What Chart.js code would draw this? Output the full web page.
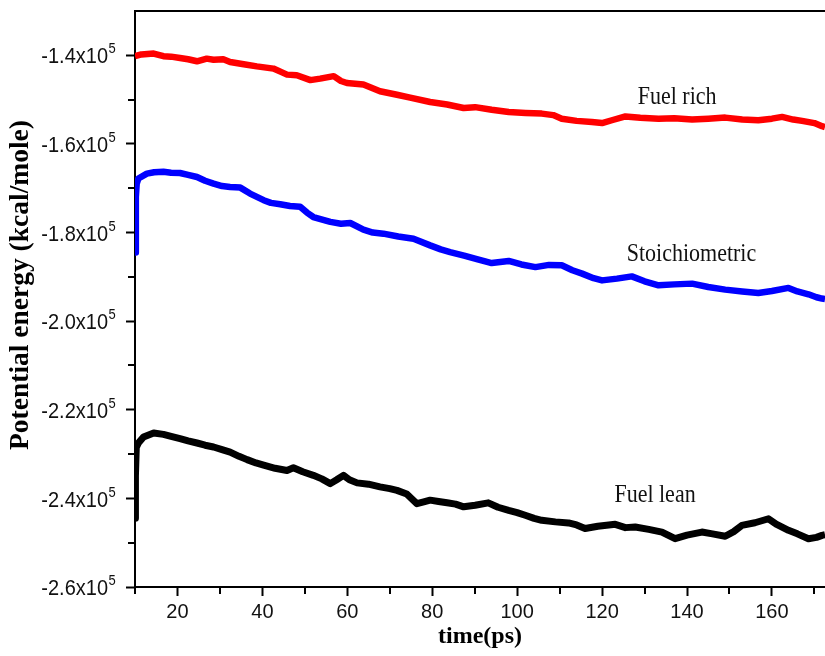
<!DOCTYPE html>
<html>
<head>
<meta charset="utf-8">
<script src="https://cdn.jsdelivr.net/npm/chart.js@4/dist/chart.umd.min.js"></script>
<style>
  html, body { margin: 0; padding: 0; background: #ffffff; }
  #wrap { width: 825px; height: 656px; }
</style>
</head>
<body>
<div id="wrap"><canvas id="c" width="825" height="656"></canvas></div>
<script>
// ---------------- data ----------------
const xTickValues = [10,20,30,40,50,60,70,80,90,100,110,120,130,140,150,160,170];
const xTickLabels = ['', '20', '', '40', '', '60', '', '80', '', '100', '', '120', '', '140', '', '160', ''];
const yTickValues = [-260000,-250000,-240000,-230000,-220000,-210000,-200000,-190000,-180000,-170000,-160000,-150000,-140000];
const yTickLabels = ['-2.6x10','', '-2.4x10','', '-2.2x10','', '-2.0x10','', '-1.8x10','', '-1.6x10','', '-1.4x10'];
const yTickExponent = '5';

const seriesNames = ['Fuel rich', 'Stoichiometric', 'Fuel lean'];

const richTime = [10.0,11.5,14.4,16.7,18.5,20.6,22.5,24.6,26.9,28.5,30.8,32.4,35.6,38.7,42.6,44.5,45.8,48.1,51.3,53.6,56.8,58.5,59.9,63.8,67.7,71.7,74.8,79.5,83.5,87.4,90.1,94,98,102,105.8,108.5,110.5,114,117.6,120,122.5,125.5,129,133.3,137,141.2,145,149,153,156.8,160,162.4,165,167.1,170,171.8,172.5];
const richEnergy = [-140200,-139800,-139600,-140200,-140300,-140600,-140900,-141350,-140750,-141000,-140900,-141500,-142000,-142500,-143000,-143800,-144360,-144500,-145600,-145260,-144700,-145800,-146250,-146600,-148100,-148900,-149550,-150540,-151100,-151900,-151700,-152300,-152800,-153000,-153160,-153500,-154300,-154800,-155050,-155300,-154600,-153800,-154100,-154300,-154200,-154500,-154300,-154060,-154500,-154670,-154300,-153900,-154500,-154800,-155300,-156000,-156200];

const stoichTime = [10.0,10.2,10.4,10.8,12.8,14.5,16.7,18.5,20.6,22.5,24.6,26.5,28.5,30.5,32.4,34.8,37.1,40.3,42,44.2,46.5,48.9,50.5,52,56,58.5,60.7,63.8,66,68.5,72,75.6,79.5,82,84.2,87.5,90.5,94,98,101,104.3,107.5,110.5,113,115.3,118,120,123.5,127,130,133.3,137,141.2,145,149,153,156.8,160,163.9,166,168.6,170.5,171.8,172.5];
const stoichEnergy = [-184500,-172000,-169000,-167800,-166700,-166400,-166300,-166500,-166560,-167000,-167470,-168300,-168960,-169500,-169700,-169860,-171200,-172700,-173300,-173600,-174000,-174200,-175500,-176500,-177600,-178000,-177850,-179350,-180000,-180250,-180900,-181400,-182900,-183800,-184400,-185200,-186000,-186880,-186420,-187200,-187800,-187300,-187400,-188500,-189270,-190300,-190800,-190400,-189900,-191000,-191900,-191700,-191530,-192300,-192880,-193300,-193650,-193200,-192500,-193300,-193940,-194600,-194900,-195000];

const leanTime = [10.0,10.1,10.3,10.8,12,14.4,16.7,18.5,20.6,22.5,24.6,26.5,28.5,30.5,32.4,34.5,36.4,38.5,40.3,43,45.8,47.3,49.5,52,54,56,57.5,59.1,60.5,62.3,65,67.7,70,71.7,74,76.4,78,79.5,81.5,83.5,85.5,87.4,90.1,93.2,95.5,98,100,101.9,104,105.8,109,112.1,114,116,119,123.1,125.5,127.8,131,134.1,137.2,140,143.5,146,149,151,152.9,156,159.2,161,163.9,166,168.6,170.5,171.8,172.5];
const leanEnergy = [-244500,-235000,-228500,-227500,-226150,-225250,-225550,-226000,-226500,-227000,-227500,-228000,-228400,-229000,-229550,-230500,-231250,-232000,-232500,-233200,-233700,-233100,-234000,-234800,-235600,-236670,-235800,-234800,-235800,-236500,-236800,-237400,-237800,-238200,-239000,-241200,-240800,-240400,-240700,-241000,-241300,-241900,-241560,-241000,-242000,-242700,-243200,-243800,-244500,-244950,-245300,-245550,-246000,-246800,-246300,-245850,-246600,-246460,-247000,-247600,-249100,-248300,-247600,-248000,-248550,-247500,-246100,-245500,-244600,-245800,-247200,-248000,-249100,-248800,-248350,-248200];

// label anchors in data coordinates (x, baseline value)
const labelAnchors = [
  { text: seriesNames[0], x: 128.4, y: -150900 },
  { text: seriesNames[1], x: 125.8, y: -186500 },
  { text: seriesNames[2], x: 122.9, y: -240900 }
];

// ---------------- styling ----------------
const AXIS_FONT = "'Liberation Sans', Arial, sans-serif";
const SERIF = "'Liberation Serif', 'Times New Roman', serif";
const VSTRETCH = 1.12;

function toXY(xs, ys) { return xs.map((x, i) => ({ x: x, y: ys[i] })); }
function isMajorX(v) { return v % 20 === 0; }
function isMajorY(v) { return v % 20000 === 0; }

const framePlugin = {
  id: 'framePlugin',
  afterDraw(chart) {
    const ctx = chart.ctx;
    const area = chart.chartArea;
    const ys = chart.scales.y;
    const xs = chart.scales.x;
    ctx.save();
    // top frame line
    ctx.strokeStyle = '#000';
    ctx.lineWidth = 2;
    ctx.beginPath();
    ctx.moveTo(area.left - 1, area.top);
    ctx.lineTo(area.right, area.top);
    ctx.stroke();

    // minor ticks (shorter)
    ctx.lineWidth = 2;
    ys.ticks.forEach(t => {
      if (isMajorY(t.value)) return;
      const py = Math.round(ys.getPixelForValue(t.value));
      ctx.beginPath(); ctx.moveTo(area.left - 1, py); ctx.lineTo(area.left - 7, py); ctx.stroke();
    });
    xs.ticks.forEach(t => {
      if (isMajorX(t.value)) return;
      const px = Math.round(xs.getPixelForValue(t.value));
      ctx.beginPath(); ctx.moveTo(px, area.bottom + 1); ctx.lineTo(px, area.bottom + 7); ctx.stroke();
    });

    // y tick labels with superscript exponent
    ctx.fillStyle = '#111';
    ys.ticks.forEach(t => {
      const lbl = yTickLabels[yTickValues.indexOf(t.value)];
      if (!lbl) return;
      const py = ys.getPixelForValue(t.value);
      ctx.save();
      ctx.translate(0, py + 2);
      ctx.scale(1, VSTRETCH);
      ctx.font = '20px ' + AXIS_FONT;
      ctx.textAlign = 'right';
      ctx.textBaseline = 'middle';
      ctx.fillText(lbl, 108, 0);
      ctx.font = '13px ' + AXIS_FONT;
      ctx.textAlign = 'left';
      ctx.fillText(yTickExponent, 108.5, -7);
      ctx.restore();
    });

    // y axis title
    ctx.save();
    ctx.translate(21, 285);
    ctx.rotate(-Math.PI / 2);
    ctx.font = 'bold 27.5px ' + SERIF;
    ctx.fillStyle = '#000';
    ctx.textAlign = 'center';
    ctx.textBaseline = 'middle';
    ctx.fillText('Potential energy (kcal/mole)', 0, 0);
    ctx.restore();

    // series labels
    ctx.fillStyle = '#111';
    labelAnchors.forEach(a => {
      ctx.save();
      ctx.translate(xs.getPixelForValue(a.x), ys.getPixelForValue(a.y));
      ctx.scale(1, VSTRETCH);
      ctx.font = '22px ' + SERIF;
      ctx.textAlign = 'left';
      ctx.textBaseline = 'alphabetic';
      ctx.fillText(a.text, 0, 0);
      ctx.restore();
    });
    ctx.restore();
  }
};

new Chart(document.getElementById('c'), {
  type: 'line',
  data: {
    datasets: [
      { label: seriesNames[0], data: toXY(richTime, richEnergy), borderColor: '#ff0000', backgroundColor: '#ff0000', borderWidth: 6.5, borderJoinStyle: 'round', pointRadius: 0, tension: 0 },
      { label: seriesNames[1], data: toXY(stoichTime, stoichEnergy), borderColor: '#0000ff', backgroundColor: '#0000ff', borderWidth: 6.5, borderJoinStyle: 'round', pointRadius: 0, tension: 0 },
      { label: seriesNames[2], data: toXY(leanTime, leanEnergy), borderColor: '#000000', backgroundColor: '#000000', borderWidth: 7, borderJoinStyle: 'round', pointRadius: 0, tension: 0 }
    ]
  },
  options: {
    responsive: false,
    animation: false,
    devicePixelRatio: 1,
    layout: { padding: { top: 11, right: 0, left: 0, bottom: 0 } },
    plugins: { legend: { display: false }, tooltip: { enabled: false } },
    scales: {
      x: {
        type: 'linear',
        min: 10,
        max: 172.5,
        afterBuildTicks: (s) => { s.ticks = xTickValues.map(v => ({ value: v })); },
        afterFit: (s) => { s.height = 69; },
        border: { display: true, color: '#000', width: 2 },
        grid: {
          display: true, drawOnChartArea: false, drawTicks: true, tickLength: 9, tickWidth: 2,
          tickColor: (c) => (c.tick && isMajorX(c.tick.value)) ? '#000' : 'rgba(0,0,0,0)'
        },
        ticks: {
          autoSkip: false,
          maxRotation: 0,
          padding: 4,
          color: '#111',
          font: { family: AXIS_FONT, size: 20 },
          callback: (v) => { const i = xTickValues.indexOf(v); return i >= 0 ? xTickLabels[i] : ''; }
        },
        title: { display: true, text: 'time(ps)', color: '#000', font: { family: SERIF, size: 24, weight: 'bold' }, padding: { top: 0, bottom: 5 } }
      },
      y: {
        type: 'linear',
        min: -260000,
        max: -130000,
        afterBuildTicks: (s) => { s.ticks = yTickValues.map(v => ({ value: v })); },
        afterFit: (s) => { s.width = 135; },
        border: { display: true, color: '#000', width: 2 },
        grid: {
          display: true, drawOnChartArea: false, drawTicks: true, tickLength: 9, tickWidth: 2,
          tickColor: (c) => (c.tick && isMajorY(c.tick.value)) ? '#000' : 'rgba(0,0,0,0)'
        },
        ticks: { autoSkip: false, display: true, callback: () => '' }
      }
    }
  },
  plugins: [framePlugin]
});
</script>
</body>
</html>
